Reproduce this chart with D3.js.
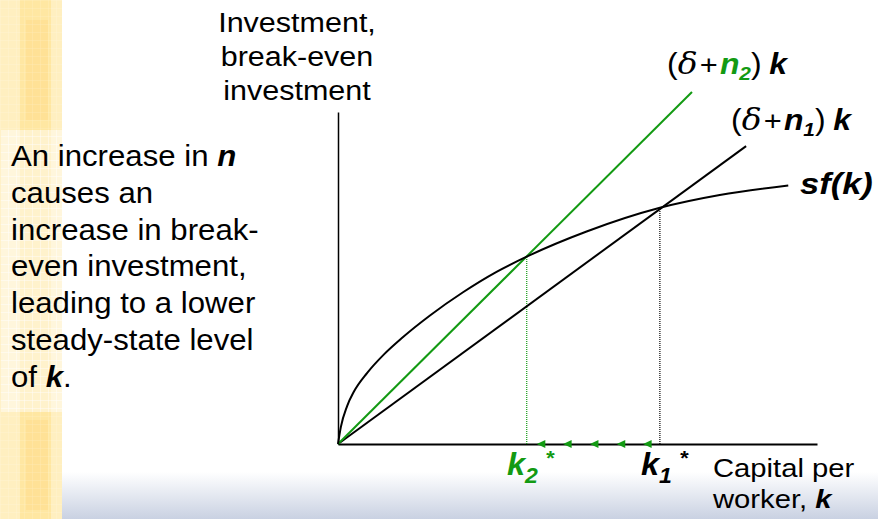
<!DOCTYPE html>
<html>
  <head>
    <meta charset="UTF-8" />
    <script src="https://d3js.org/d3.v7.min.js"></script>
    <style>
      body { margin: 0; background: #fff; }
      text { font-family: "Liberation Sans", Arial, sans-serif; }
    </style>
  </head>
  <body>
    <div id="my_dataviz"></div>

    <script>
      // sf(k)
      const curveK = [0, 0.06, 0.19, 0.33, 0.61, 0.96, 1.34, 1.92, 2.61, 3.31, 3.94, 5.19, 6.72, 7.97, 9.4];
      const curveSF = [0, 0.36, 0.8, 1.1, 1.5, 1.89, 2.24, 2.71, 3.2, 3.63, 3.95, 4.48, 4.98, 5.25, 5.45];
      // break-even lines (start, end)
      const lineK2 = [0, 7.39], lineInv2 = [0, 7.42];
      const lineK1 = [0, 8.52], lineInv1 = [0, 6.28];
      // steady states k2*, k1*
      const kStar = [3.94, 6.72];
      const invStar = [3.95, 4.98];
      // arrow tips on the k axis
      const arrowK = [4.15, 4.7, 5.26, 5.82, 6.37];
      const textLines = ["An increase in ", "causes an", "increase in break-", "even investment,", "leading to a lower", "steady-state level", "of "];

      var width = 878, height = 519;
      var green = "#139a13";

      var svg = d3
        .select("#my_dataviz")
        .append("svg")
        .attr("width", width)
        .attr("height", height);

      var defs = svg.append("defs");
      var grad = defs.append("linearGradient").attr("id", "band").attr("x1", 0).attr("y1", 0).attr("x2", 0).attr("y2", 1);
      grad.append("stop").attr("offset", "0%").attr("stop-color", "#ffffff");
      grad.append("stop").attr("offset", "100%").attr("stop-color", "#c9d1e2");
      var pat = defs.append("pattern").attr("id", "grid").attr("width", 8).attr("height", 8).attr("patternUnits", "userSpaceOnUse");
      pat.append("path").attr("d", "M8 0 L0 0 0 8").attr("fill", "none").attr("stroke", "#fff").attr("stroke-width", 1).attr("opacity", 0.7);

      // background: yellow strip on the left, blue band at the bottom
      svg.append("rect").attr("x", 62).attr("y", 472).attr("width", width - 62).attr("height", 47).attr("fill", "url(#band)");
      svg.append("rect").attr("x", 0).attr("y", 0).attr("width", 62).attr("height", height).attr("fill", "#ffefc0");
      svg.append("rect").attr("x", 20).attr("y", 0).attr("width", 31).attr("height", height).attr("fill", "#ffe7a2");
      svg.append("rect").attr("x", 26).attr("y", 20).attr("width", 22).attr("height", 100).attr("fill", "#ffe196");
      svg.append("rect").attr("x", 26).attr("y", 420).attr("width", 22).attr("height", 90).attr("fill", "#ffe196");
      svg.append("rect").attr("x", 0).attr("y", 0).attr("width", 62).attr("height", height).attr("fill", "url(#grid)").attr("opacity", 0.35);

      // text box
      svg.append("rect").attr("x", 1).attr("y", 130).attr("width", 290).attr("height", 282).attr("fill", "#fff").attr("opacity", 0.45);
      svg.append("rect").attr("x", 1).attr("y", 130).attr("width", 61).attr("height", 282).attr("fill", "url(#grid)");

      // stretched text block: group at (x,y) scaled horizontally
      function block(x, y, sx) {
        return svg.append("g").attr("transform", "translate(" + x + "," + y + ") scale(" + sx + ",1)");
      }

      var para = block(11, 166, 1.075).append("text").attr("font-size", 29).attr("fill", "#000");
      textLines.forEach(function (t, i) {
        para.append("tspan").attr("x", 0).attr("y", i * 36.8).text(t);
      });
      para.select("tspan:nth-child(1)").append("tspan").attr("font-weight", "bold").attr("font-style", "italic").text("n");
      para.select("tspan:nth-child(7)").append("tspan").attr("font-weight", "bold").attr("font-style", "italic").text("k");
      para.select("tspan:nth-child(7)").append("tspan").text(".");

      // scales
      var xScale = d3.scaleLinear().domain([0, 10]).range([338, 817]);
      var yScale = d3.scaleLinear().domain([0, 7]).range([444, 112]);

      // axes
      svg.append("g")
        .attr("transform", "translate(0," + yScale(0) + ")")
        .call(d3.axisBottom(xScale).tickValues([]).tickSizeOuter(0))
        .select(".domain").attr("stroke-width", 2);
      svg.append("g")
        .attr("transform", "translate(" + xScale(0) + ",0)")
        .call(d3.axisLeft(yScale).tickValues([]).tickSizeOuter(0))
        .select(".domain").attr("stroke-width", 1.5);

      // dotted drop lines
      var dropColors = [green, "#000"];
      svg.selectAll(".drop")
        .data(kStar)
        .join("line")
        .attr("x1", d => xScale(d))
        .attr("x2", d => xScale(d))
        .attr("y1", yScale(0))
        .attr("y2", (d, i) => yScale(invStar[i]))
        .attr("stroke", (d, i) => dropColors[i])
        .attr("stroke-width", 1.2)
        .attr("stroke-dasharray", "1,1");

      // break-even lines
      var lineGen = d3.line().x(d => xScale(d[0])).y(d => yScale(d[1]));
      svg.append("path")
        .attr("d", lineGen(d3.zip(lineK1, lineInv1)))
        .attr("fill", "none").attr("stroke", "#000").attr("stroke-width", 2);
      svg.append("path")
        .attr("d", lineGen(d3.zip(lineK2, lineInv2)))
        .attr("fill", "none").attr("stroke", green).attr("stroke-width", 2);

      // sf(k)
      var curveGen = d3.line().x(d => xScale(d[0])).y(d => yScale(d[1])).curve(d3.curveMonotoneX);
      svg.append("path")
        .attr("d", curveGen(d3.zip(curveK, curveSF)))
        .attr("fill", "none").attr("stroke", "#000").attr("stroke-width", 2);

      // arrows on axis
      svg.selectAll(".arrow")
        .data(arrowK)
        .join("path")
        .attr("transform", d => "translate(" + xScale(d) + "," + yScale(0) + ")")
        .attr("d", "M0,0 L8.5,-4 L8.5,4 Z")
        .attr("fill", green);

      // labels
      var yLab = block(297, 32, 1.13).append("text").attr("font-size", 27).attr("text-anchor", "middle");
      ["Investment,", "break-even", "investment"].forEach(function (t, i) {
        yLab.append("tspan").attr("x", 0).attr("y", i * 34).text(t);
      });

      function bkLabel(x, y, sub, col) {
        var t = block(x, y, 1.1).append("text").attr("font-size", 29);
        t.append("tspan").text("(");
        t.append("tspan").attr("font-style", "italic").attr("font-family", "DejaVu Serif").attr("font-size", 30).text("δ");
        t.append("tspan").attr("font-size", 28).attr("dx", 2).text("+");
        t.append("tspan").attr("font-weight", "bold").attr("font-style", "italic").attr("fill", col).attr("dx", 2).text("n");
        t.append("tspan").attr("font-style", "italic").attr("font-weight", "bold").attr("font-size", 19).attr("dy", 6).attr("fill", col).text(sub);
        t.append("tspan").attr("dy", -6).text(")");
        t.append("tspan").attr("font-weight", "bold").attr("font-style", "italic").attr("dx", 7).text("k");
      }
      bkLabel(667, 74, "2", green);
      bkLabel(731, 130, "1", "#000");

      block(800, 194, 1.15).append("text").attr("font-size", 30)
        .attr("font-weight", "bold").attr("font-style", "italic").text("sf(k)");

      function kLabel(x, sub, col) {
        var t = block(x, 475, 1.05).append("text").attr("font-size", 31).attr("fill", col)
          .attr("font-weight", "bold").attr("font-style", "italic");
        t.append("tspan").text("k");
        t.append("tspan").attr("font-size", 22).attr("dy", 8).text(sub);
        t.append("tspan").attr("font-size", 21).attr("dx", 7).attr("dy", -18).text("*");
      }
      kLabel(507, "2", green);
      kLabel(641, "1", "#000");

      var xLab = block(713, 477, 1.17).append("text").attr("font-size", 25);
      xLab.append("tspan").attr("x", 0).attr("y", 0).text("Capital per");
      var l2 = xLab.append("tspan").attr("x", 0).attr("y", 31).text("worker, ");
      l2.append("tspan").attr("font-weight", "bold").attr("font-style", "italic").text("k");
    </script>
  </body>
</html>
